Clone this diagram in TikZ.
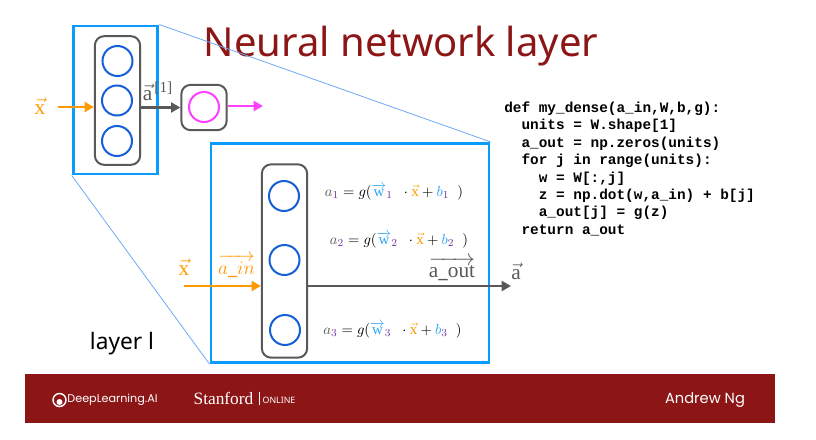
\documentclass[tikz,border=0pt]{standalone}
\usepackage{fontspec}
\usepackage{amsmath}
\setmainfont{Noto Sans}
\setmonofont{Liberation Mono}
\setmathrm{Liberation Serif}
\newfontfamily\serifvec{Liberation Serif}
\newfontfamily\logofont{Poppins}
\usetikzlibrary{arrows.meta}
\definecolor{bannerred}{HTML}{8C1515}
\definecolor{zoomblue}{HTML}{0A9BFF}
\definecolor{guideblue}{HTML}{6FA8F5}
\definecolor{unitblue}{HTML}{1560D8}
\definecolor{boxgray}{HTML}{595959}
\definecolor{inorange}{HTML}{FF9900}
\definecolor{wblue}{HTML}{2FA5F5}
\definecolor{subpurple}{HTML}{7030A0}
\definecolor{sigmagenta}{HTML}{FF40FF}
\newcommand{\vecx}{\vec{\mathrm{x}}}
\newcommand{\uniteq}[1]{$\textcolor{boxgray}{a}_{\textcolor{subpurple}{#1}}=g(\textcolor{wblue}{\overrightarrow{\mathrm{w}}}_{\textcolor{subpurple}{#1}}\;\;\cdot\textcolor{inorange}{\vecx}+\textcolor{wblue}{b}_{\textcolor{subpurple}{#1}}\;\;)$}
\tikzset{
  zoombox/.style={draw=zoomblue,line width=2.2pt,inner sep=0pt},
  column/.style={draw=boxgray,line width=1.5pt,rounded corners=7pt,inner sep=0pt,minimum width=34pt},
  unit/.style={circle,draw=unitblue,line width=1.5pt,inner sep=0pt,minimum size=22.5pt},
  orangearrow/.style={draw=inorange,line width=2.2pt,-{Triangle[length=7pt,width=7.5pt]}},
  grayarrow/.style={draw=boxgray,line width=2.2pt,-{Triangle[length=7pt,width=7.5pt]}},
  guide/.style={draw=guideblue,line width=.6pt},
  bannertext/.style={text=white,inner sep=0pt},
}
\begin{document}
\begin{tikzpicture}[x=.75pt,y=-.75pt]
\useasboundingbox (0,0) rectangle (816,439);
% banner
\fill[bannerred] (25,374) rectangle (775,423);
\node[bannertext,font=\logofont\fontsize{8.4}{12}\selectfont] (dl) at (112.5,400) {DeepLearning.AI};
\draw[white,line width=1.1pt] (59.5,400) circle (6.5);
\fill[white] (59.5,402) circle (3);
\node[bannertext,font=\serifvec\fontsize{13}{15}\selectfont] (stanford) at (223.5,398) {Stanford};
\draw[white,line width=.3pt] (259,392) -- (259,405);
\node[bannertext,font=\bfseries\fontsize{6.6}{9}\selectfont] (online) at (279,400.5) {ONLINE};
\node[bannertext,font=\logofont\fontsize{11}{13}\selectfont] (ng) at (705,400) {Andrew Ng};
% title
\node[text=bannerred,inner sep=0pt,font=\fontsize{30}{36}\selectfont] (title) at (401,46) {Neural network layer};
% small network
\node[zoombox,minimum width=63.5pt,minimum height=111pt] (zooms) at (115.5,100) {};
\node[column,minimum height=96.5pt] (cols) at (117.5,100.5) {};
\node[unit] (us1) at (117.5,61) {};
\node[unit] (us2) at (117,100.5) {};
\node[unit] (us3) at (117,141) {};
\node[text=inorange,inner sep=0pt,font=\fontsize{16}{18}\selectfont] (xs) at (40,106) {$\vecx$};
\coordinate (xsin) at (58,107);
\draw[orangearrow] (xsin) -- (xsin -| cols.west);
\node[draw=boxgray,line width=1.5pt,rounded corners=7pt,minimum size=34pt,inner sep=0pt] (out) at (204,107.5) {};
\node[circle,draw=sigmagenta,line width=1.5pt,minimum size=22.5pt,inner sep=0pt] (sig) at (204,107) {};
\draw[grayarrow] (cols.east |- out.west) -- (out.west);
\coordinate (sigout) at (263,106);
\draw[draw=sigmagenta,line width=2.2pt,-{Triangle[length=7pt,width=7.5pt]}] (sigout -| out.east) -- (sigout);
\node[text=boxgray,inner sep=0pt,font=\fontsize{16}{18}\selectfont] (a1) at (158,91) {$\vec{\mathrm{a}}^{\text{\hspace{1.5pt}\serifvec\fontsize{11.5}{12}\selectfont[1]}}$};
% large network
\node[zoombox,minimum width=208.5pt,minimum height=164.5pt] (zooml) at (350,253) {};
\draw[guide] (zooms.north east) -- (zooml.north east);
\draw[guide] (zooms.south west) -- (zooml.south west);
\node[column,minimum height=145pt] (coll) at (284.5,261) {};
\node[unit] (ul1) at (284,196) {};
\node[unit] (ul2) at (284.5,260) {};
\node[unit] (ul3) at (285,330) {};
\node[inner sep=0pt,font=\fontsize{11.3}{13}\selectfont] (eq1) at (394,192) {\uniteq{1}};
\node[inner sep=0pt,font=\fontsize{11.3}{13}\selectfont] (eq2) at (399,240) {\uniteq{2}};
\node[inner sep=0pt,font=\fontsize{11.3}{13}\selectfont] (eq3) at (392.5,330) {\uniteq{3}};
\coordinate (xlin) at (184,286);
\coordinate (aout) at (511,286);
\draw[orangearrow] (xlin) -- (xlin -| coll.west);
\draw[grayarrow] (aout -| coll.east) -- (aout);
\node[text=inorange,inner sep=0pt,font=\fontsize{16}{18}\selectfont] (xl) at (184,267) {$\vecx$};
\node[text=inorange,inner sep=0pt,font=\fontsize{15.5}{18}\selectfont] (ain) at (236.5,266) {$\overrightarrow{a\_in}$};
\node[text=boxgray,inner sep=0pt,font=\fontsize{16}{18}\selectfont] (aoutl) at (452,269) {$\overrightarrow{\mathrm{a\_out}}$};
\node[text=boxgray,inner sep=0pt,font=\fontsize{16}{18}\selectfont] (al) at (516,271) {$\vec{\mathrm{a}}$};
\node[inner sep=0pt,font=\fontsize{17}{20}\selectfont] (layer) at (122,344) {layer l};
% code
\node[anchor=north west,inner sep=0pt,align=left,font=\ttfamily\bfseries\fontsize{10.8}{13.07}\selectfont] (code) at (504,101.5) {def my\_dense(a\_in,W,b,g):\\
\ \ units = W.shape[1]\\
\ \ a\_out = np.zeros(units)\\
\ \ for j in range(units):\\
\ \ \ \ w = W[:,j]\\
\ \ \ \ z = np.dot(w,a\_in) + b[j]\\
\ \ \ \ a\_out[j] = g(z)\\
\ \ return a\_out};
\end{tikzpicture}
\end{document}
